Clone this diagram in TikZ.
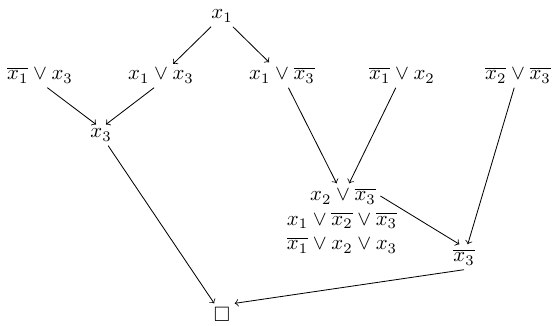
\documentclass[tikz,border=0pt]{standalone}
\usepackage{amssymb}
\begin{document}
\begin{tikzpicture}[x=0.48pt,y=-0.48pt,
  lit/.style={inner sep=2pt, anchor=base},
  arr/.style={->}]
\useasboundingbox (0,0) rectangle (557,326);
\node[lit] (top) at (222,19) {$x_1$};
\node[lit] (a) at (40,80) {$\overline{x_1}\vee x_3$};
\node[lit] (b) at (161,80) {$x_1\vee x_3$};
\node[lit] (c) at (282,80) {$x_1\vee \overline{x_3}$};
\node[lit] (d) at (402,80) {$\overline{x_1}\vee x_2$};
\node[lit] (e) at (518,80) {$\overline{x_2}\vee \overline{x_3}$};
\node[lit] (x3) at (101,138) {$x_3$};
\node[lit] (f) at (343,201) {$x_2\vee \overline{x_3}$};
\node[lit] (g) at (342,225.5) {$x_1\vee \overline{x_2}\vee \overline{x_3}$};
\node[lit] (h) at (342,250) {$\overline{x_1}\vee x_2\vee x_3$};
\node[lit] (nx3) at (464,262) {$\overline{x_3}$};
\node[lit] (box) at (222,322) {$\Box$};
\draw[arr] (top) -- (b);
\draw[arr] (top) -- (c);
\draw[arr] (a.-60) -- (x3.115);
\draw[arr] (b.240) -- (x3.65);
\draw[arr] (c) -- (f);
\draw[arr] (d) -- (f);
\draw[arr] (f.east) -- (nx3.110);
\draw[arr] (e) -- (nx3);
\draw[arr] (x3) -- (box);
\draw[arr] (nx3.south) -- (box.north east);
\end{tikzpicture}
\end{document}
